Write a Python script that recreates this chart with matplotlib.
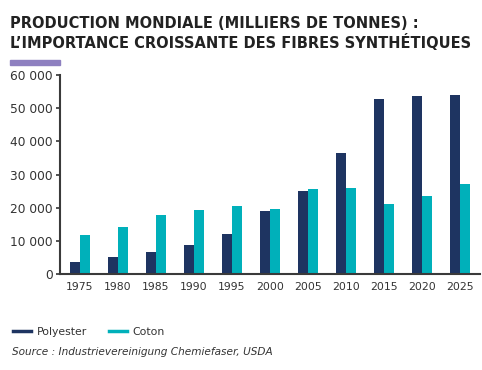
import matplotlib.pyplot as plt
import matplotlib.patches as mpatches
from matplotlib.lines import Line2D
import numpy as np

years = ["1975", "1980", "1985", "1990", "1995", "2000",
         "2005", "2010", "2015", "2020", "2025"]
polyester = [3500, 5200, 6700, 8700, 12200, 19000, 24900, 36500, 52900, 53700, 54100]
coton = [11900, 14100, 17800, 19300, 20600, 19600, 25600, 25900, 21100, 23500, 27100]
yticks = [0, 10000, 20000, 30000, 40000, 50000, 60000]
ytick_labels = ["0", "10 000", "20 000", "30 000", "40 000", "50 000", "60 000"]

NAVY = "#1e3461"
CYAN = "#00b0ba"
TEXT = "#333333"

fig = plt.figure(figsize=(4.82, 3.70), dpi=100)
ax = fig.add_axes([60 / 482, 1 - 274 / 370, 420 / 482, (274 - 75) / 370])

x = np.arange(len(years))
w = 0.27
ax.bar(x - w / 2, polyester, width=w, color=NAVY)
ax.bar(x + w / 2, coton, width=w, color=CYAN)

ax.set_xlim(-0.52, 10.52)
ax.set_ylim(0, 60000)
ax.set_yticks(yticks)
ax.set_yticklabels(ytick_labels)
ax.set_xticks(x)
ax.set_xticklabels(years)
ax.tick_params(axis="x", length=0, pad=6, labelsize=7.8, colors=TEXT)
ax.tick_params(axis="y", length=3, width=1.2, pad=2, labelsize=8.8, colors=TEXT)
for s in ["top", "right"]:
    ax.spines[s].set_visible(False)
for s in ["left", "bottom"]:
    ax.spines[s].set_color("#3a3a3a")
    ax.spines[s].set_linewidth(1.5)

# title
fig.text(10 / 482, 1 - 24 / 370, "PRODUCTION MONDIALE (MILLIERS DE TONNES) :",
         fontsize=10.5, fontweight="bold", color="#222222", va="center", ha="left")
fig.text(10 / 482, 1 - 43 / 370, "L\u2019IMPORTANCE CROISSANTE DES FIBRES SYNTHÉTIQUES",
         fontsize=10.5, fontweight="bold", color="#222222", va="center", ha="left")
fig.patches.append(mpatches.Rectangle((10 / 482, 1 - 65 / 370), 50 / 482, 5 / 370,
                                      transform=fig.transFigure, color="#8e80c0"))

# legend
handles = [Line2D([], [], color=NAVY, lw=2.5), Line2D([], [], color=CYAN, lw=2.5)]
fig.legend(handles, ["Polyester", "Coton"], loc="center left",
           bbox_to_anchor=(13 / 482, 1 - 332 / 370), ncol=2, frameon=False,
           fontsize=7.8, handlelength=1.7, handletextpad=0.5, columnspacing=2.0,
           labelcolor=TEXT, borderpad=0, borderaxespad=0)

fig.text(12 / 482, 1 - 352 / 370, "Source : Industrievereinigung Chemiefaser, USDA",
         fontsize=7.6, style="italic", color=TEXT, va="center", ha="left")

plt.savefig("out.png", dpi=100)
